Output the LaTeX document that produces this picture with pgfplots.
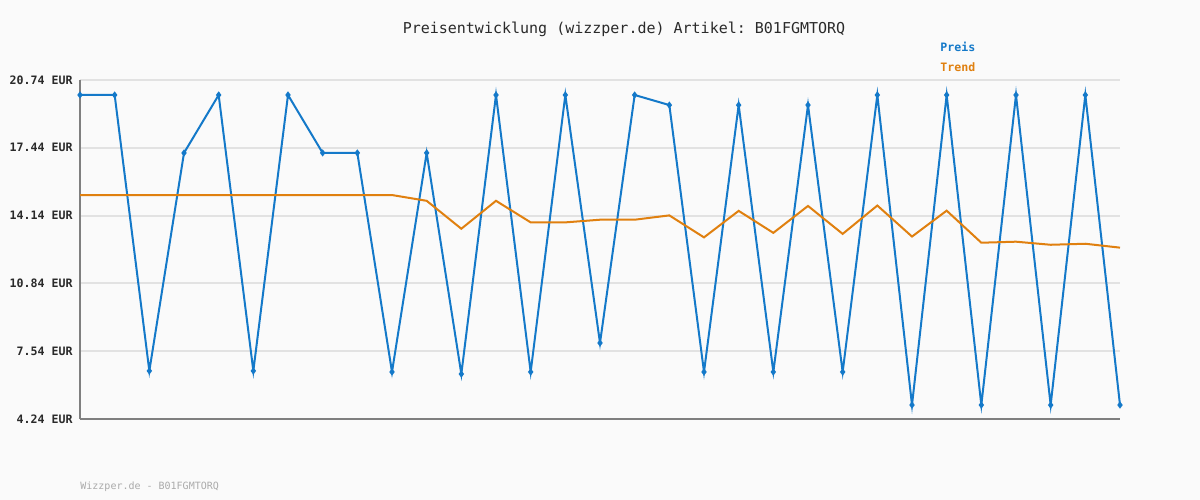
\documentclass[border=0pt]{standalone}
\usepackage{pgfplots}
\pgfplotsset{compat=1.18}
\usepackage{fontspec}
\setmainfont{DejaVu Sans}
\setmonofont{DejaVu Sans Mono}
\definecolor{bg}{HTML}{FAFAFA}
\definecolor{preis}{HTML}{1479C9}
\definecolor{trend}{HTML}{E0800F}
\definecolor{gridc}{HTML}{E2E2E2}
\definecolor{axisc}{HTML}{7F7F7F}
\definecolor{txt}{HTML}{2A2A2A}
\definecolor{foot}{HTML}{AAAAAA}
\begin{document}
\begin{tikzpicture}
\fill[bg] (0,0) rectangle (600bp,250bp);
\begin{axis}[
  at={(40bp,40.5bp)}, anchor=south west,
  scale only axis, width=520bp, height=169.5bp,
  xmin=0, xmax=30, ymin=4.24, ymax=20.74,
  axis x line*=bottom, axis y line*=left,
  axis line style={axisc, line width=1bp},
  x axis line style={-}, y axis line style={-},
  xtick=\empty,
  ytick={4.24,7.54,10.84,14.14,17.44,20.74},
  yticklabels={4.24 EUR,7.54 EUR,10.84 EUR,14.14 EUR,17.44 EUR,20.74 EUR},
  yticklabel style={font=\ttfamily\bfseries\fontsize{5.8bp}{6bp}\selectfont, text=txt, anchor=east, inner sep=0pt, xshift=-3.5bp},
  major tick length=0pt,
  ymajorgrids, grid style={gridc, line width=1bp},
  clip=false,
]
\addplot[preis, line width=1bp, mark=diamond*, mark size=1bp, mark options={solid}] coordinates {
(0,20.01) (1,20.01) (2,6.58) (3,17.19) (4,20.01) (5,6.58) (6,20.01) (7,17.19) (8,17.19) (9,6.53)
(10,17.19) (11,6.43) (12,20.01) (13,6.53) (14,20.01) (15,7.94) (16,20.01) (17,19.52) (18,6.53) (19,19.52)
(20,6.53) (21,19.52) (22,6.53) (23,20.01) (24,4.92) (25,20.01) (26,4.92) (27,20.01) (28,4.92) (29,20.01)
(30,4.92)};
\addplot[trend, line width=1bp, no marks] coordinates {
(0,15.14) (1,15.14) (2,15.14) (3,15.14) (4,15.14) (5,15.14) (6,15.14) (7,15.14) (8,15.14) (9,15.14)
(10,14.86) (11,13.50) (12,14.86) (13,13.81) (14,13.81) (15,13.94) (16,13.94) (17,14.15) (18,13.08) (19,14.37)
(20,13.30) (21,14.61) (22,13.25) (23,14.63) (24,13.12) (25,14.38) (26,12.82) (27,12.87) (28,12.72) (29,12.77)
(30,12.58)};
\end{axis}
\node[anchor=center, text=txt, font=\ttfamily\fontsize{7.5bp}{8bp}\selectfont] at (312bp,235.5bp) {Preisentwicklung (wizzper.de) Artikel: B01FGMTORQ};
\node[anchor=west, inner sep=0pt, text=preis, font=\ttfamily\bfseries\fontsize{5.8bp}{6bp}\selectfont] at (470bp,226.5bp) {Preis};
\node[anchor=west, inner sep=0pt, text=trend, font=\ttfamily\bfseries\fontsize{5.8bp}{6bp}\selectfont] at (470bp,216.5bp) {Trend};
\node[anchor=west, inner sep=0pt, text=foot, font=\ttfamily\fontsize{5bp}{6bp}\selectfont] at (40bp,6.5bp) {Wizzper.de - B01FGMTORQ};
\end{tikzpicture}
\end{document}
